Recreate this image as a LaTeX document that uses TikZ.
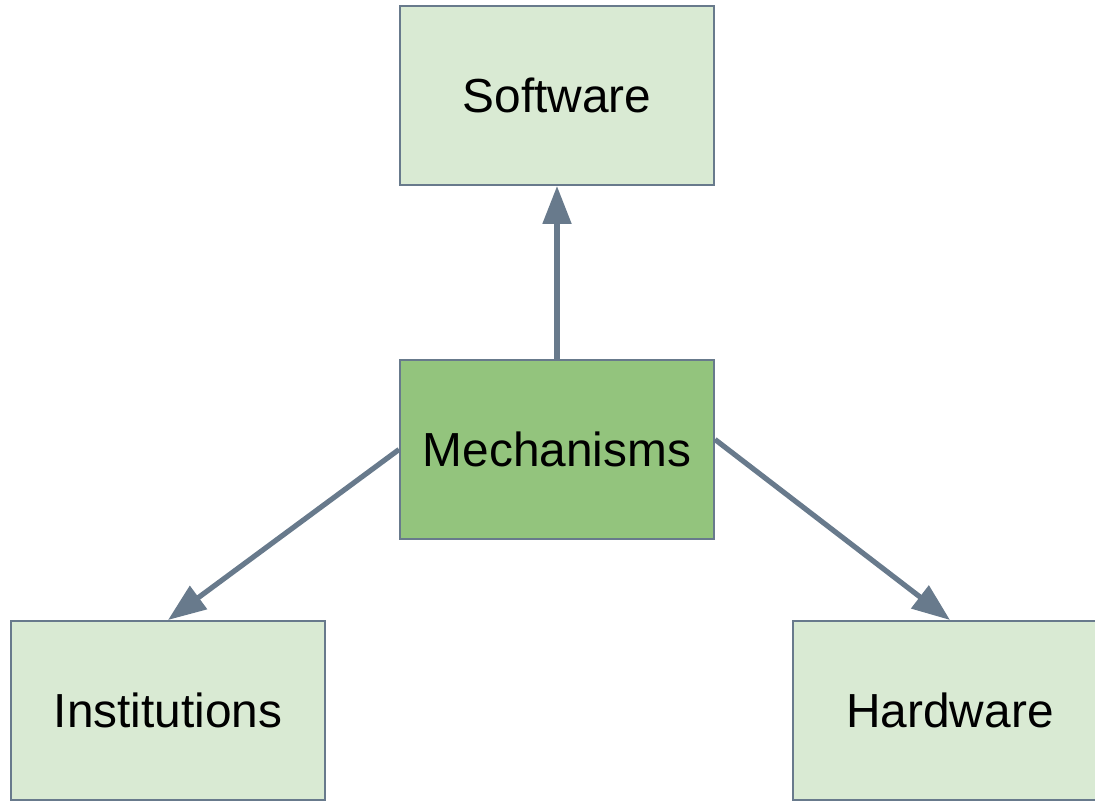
\documentclass[tikz,border=0pt]{standalone}
\usepackage{fontspec}
\setmainfont{Liberation Sans}
\usetikzlibrary{arrows.meta}
\definecolor{lightgreen}{HTML}{D9EAD3}
\definecolor{midgreen}{HTML}{93C47D}
\definecolor{slate}{RGB}{104,122,140}
\tikzset{
    box/.style={draw=slate, line width=1pt, fill=lightgreen, minimum width=157pt, minimum height=89.5pt, font=\fontsize{23.9}{28}\selectfont},
    link/.style={draw=slate, line width=2.6pt, -{Triangle[length=19pt,width=14pt]}}
}
\begin{document}
\begin{tikzpicture}[x=0.5pt, y=-0.5pt]
        \useasboundingbox (0,0) rectangle (1095,801);

        \node[box] (software) at (557,95.5) {Software};
        \node[box, fill=midgreen] (mechanisms) at (557,449.5) {Mechanisms};
        \node[box] (institutions) at (168,710.5) {Institutions};
        \node[box] (hardware) at (950,710.5) {Hardware};

        \draw[link] (mechanisms.north) -- (software.south);
        \draw[link] (mechanisms.west) -- (institutions.north);
        \draw[link] ([yshift=5pt]mechanisms.east) -- (hardware.north);
    \end{tikzpicture}
\end{document}
